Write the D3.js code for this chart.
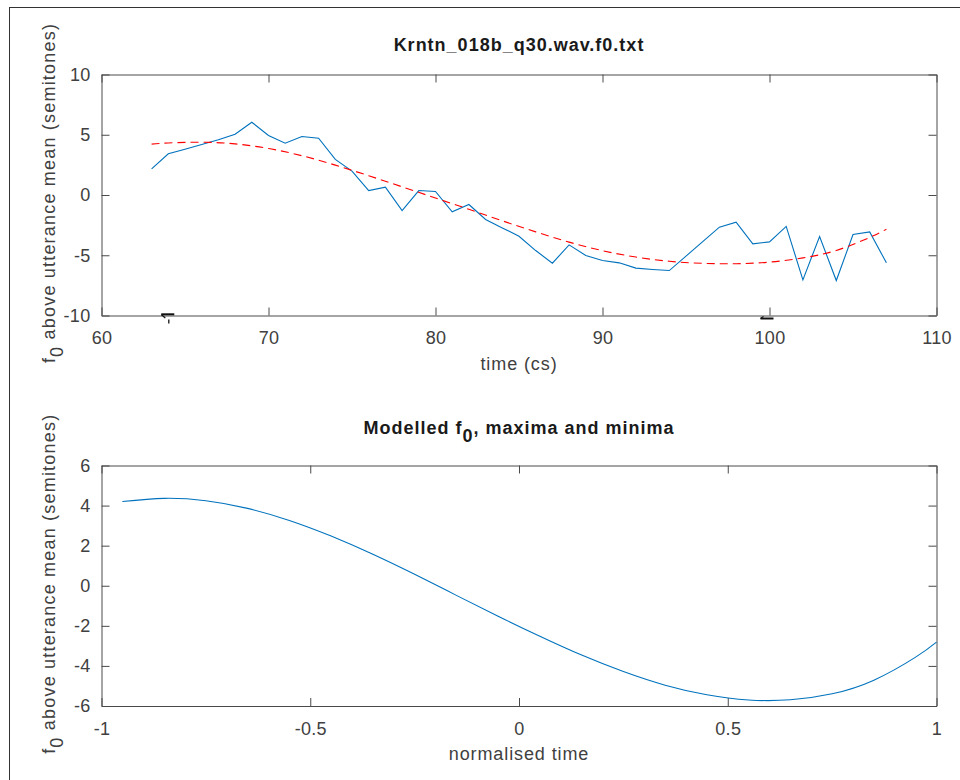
<!DOCTYPE html>
<html>
<head>
<meta charset="utf-8">
<script src="https://cdn.jsdelivr.net/npm/d3@7/dist/d3.min.js"></script>
<style>
  html, body { margin: 0; padding: 0; background: #fff; }
  svg { display: block; }
  text { font-family: "Liberation Sans", Arial, Helvetica, sans-serif; fill: #404040; }
</style>
</head>
<body>
<svg id="chart" width="960" height="780"></svg>
<script>
// ---------- data ----------
const timeCs = [63,64,65,66,67,68,69,70,71,72,73,74,75,76,77,78,79,80,81,82,83,84,85,
                86,87,88,89,90,91,92,93,94,95,96,97,98,99,100,101,102,103,104,105,106,107];
const f0Values = [2.17,3.42,3.80,4.19,4.58,5.05,6.04,4.94,4.30,4.85,4.71,2.95,1.98,0.37,0.65,-1.29,
                  0.37,0.29,-1.40,-0.79,-2.03,-2.73,-3.42,-4.61,-5.66,-4.14,-5.02,-5.44,-5.63,-6.07,
                  -6.18,-6.27,-5.07,-3.87,-2.67,-2.26,-4.05,-3.89,-2.61,-7.04,-3.44,-7.10,-3.28,-3.06,-5.63];
const fitTimes  = [63,64,66,68,70,72,74,76,78,80,82,84,86,88,90,92,94,96,98,100,102,104,106,107];
const fitValues = [4.22,4.32,4.38,4.24,3.86,3.26,2.48,1.60,0.68,-0.25,-1.19,-2.14,-3.06,-3.91,-4.62,
                   -5.15,-5.50,-5.67,-5.70,-5.57,-5.22,-4.60,-3.52,-2.84];
const modelTime = [-0.95,-0.85,-0.75,-0.65,-0.55,-0.45,-0.35,-0.25,-0.15,-0.05,0.05,0.15,0.25,0.35,
                   0.45,0.55,0.65,0.75,0.85,0.95,1.0];
const modelF0   = [4.20,4.36,4.24,3.86,3.26,2.48,1.57,0.57,-0.48,-1.52,-2.52,-3.46,-4.28,-4.96,
                   -5.44,-5.70,-5.69,-5.39,-4.71,-3.56,-2.81];
const markerTimes = [64, 100];

const topXTicks = [60,70,80,90,100,110];
const topYTicks = [-10,-5,0,5,10];
const botXTicks = [-1,-0.5,0,0.5,1];
const botYTicks = [-6,-4,-2,0,2,4,6];

const topTitle = "Krntn_018b_q30.wav.f0.txt";
const topXLabel = "time (cs)";
const botXLabel = "normalised time";

// ---------- drawing ----------
const svg = d3.select("#chart");
const AX = "#4a4a4a";
const TXT = "#404040";

svg.append("rect").attr("x", 9.5).attr("y", 7.5).attr("width", 1000).attr("height", 1000)
  .attr("fill", "none").attr("stroke", "#333").attr("stroke-width", 1);

function panel(cfg) {
  const g = svg.append("g");
  const x = d3.scaleLinear().domain(cfg.xDomain).range([cfg.left, cfg.right]);
  const y = d3.scaleLinear().domain(cfg.yDomain).range([cfg.bottom, cfg.top]);
  const fmt = d => String(d);

  const styleAxis = sel => {
    sel.select(".domain").attr("stroke", AX).attr("stroke-width", 1);
    sel.selectAll(".tick line").attr("stroke", AX).attr("stroke-width", 1);
    sel.selectAll(".tick text").attr("fill", TXT).style("font-size", "18px")
       .style("letter-spacing", "0.3px")
       .style("font-family", '"Liberation Sans", Arial, sans-serif');
  };

  g.append("g").attr("transform", `translate(0,${cfg.bottom})`)
    .call(d3.axisBottom(x).tickValues(cfg.xTicks).tickFormat(fmt).tickSize(-8).tickSizeOuter(0).tickPadding(16))
    .call(styleAxis);
  g.append("g").attr("transform", `translate(0,${cfg.top})`)
    .call(d3.axisTop(x).tickValues(cfg.xTicks).tickFormat("").tickSize(-8).tickSizeOuter(0))
    .call(styleAxis);
  g.append("g").attr("transform", `translate(${cfg.left},0)`)
    .call(d3.axisLeft(y).tickValues(cfg.yTicks).tickFormat(fmt).tickSize(-8).tickSizeOuter(0).tickPadding(11))
    .call(styleAxis);
  g.append("g").attr("transform", `translate(${cfg.right},0)`)
    .call(d3.axisRight(y).tickValues(cfg.yTicks).tickFormat("").tickSize(-8).tickSizeOuter(0))
    .call(styleAxis);
  g.selectAll(".tick text").filter(function(){ return this.textContent === ""; }).remove();

  // x label
  g.append("text").attr("x", (cfg.left + cfg.right) / 2).attr("y", cfg.bottom + 54)
    .attr("text-anchor", "middle").style("font-size", "18px").style("letter-spacing", "0.9px")
    .text(cfg.xLabel);

  // y label (rotated, with subscript 0)
  const yl = g.append("text")
    .attr("transform", `translate(55,${(cfg.top + cfg.bottom) / 2 - 2}) rotate(-90)`)
    .attr("text-anchor", "middle").style("font-size", "18px").style("letter-spacing", "1.2px");
  yl.append("tspan").text("f");
  yl.append("tspan").attr("dy", 8).text("0");
  yl.append("tspan").attr("dy", -8).text(" above utterance mean (semitones)");

  return {g, x, y};
}

// top panel
const P1 = panel({xDomain:[60,110], yDomain:[-10,10], left:101.5, right:936.5, top:74.5, bottom:315.5,
                  xTicks: topXTicks, yTicks: topYTicks, xLabel: topXLabel});
P1.g.append("path")
  .datum(timeCs.map((t,i) => [t, f0Values[i]]))
  .attr("fill", "none").attr("stroke", "#0072BD").attr("stroke-width", 1.1)
  .attr("d", d3.line().x(d => P1.x(d[0])).y(d => P1.y(d[1])));
P1.g.append("path")
  .datum(fitTimes.map((t,i) => [t, fitValues[i]]))
  .attr("fill", "none").attr("stroke", "#FF0000").attr("stroke-width", 1.1)
  .attr("stroke-dasharray", "8,5")
  .attr("d", d3.line().curve(d3.curveNatural).x(d => P1.x(d[0])).y(d => P1.y(d[1])));

// small extremum markers under the axis
markerTimes.forEach((t, i) => {
  const mx = P1.x(t), my = P1.y(-10);
  if (i === 0) {
    P1.g.append("path").attr("d", `M${mx-7},${my-1.2}H${mx+6}`).attr("stroke", "#111").attr("stroke-width", 2).attr("fill","none");
    P1.g.append("path").attr("d", `M${mx-7},${my-1}L${mx-3},${my+2.5}`).attr("stroke", "#111").attr("stroke-width", 1.2).attr("fill","none");
    P1.g.append("path").attr("d", `M${mx+0.5},${my+4}V${my+8}`).attr("stroke", "#111").attr("stroke-width", 1.3).attr("fill","none");
  } else {
    P1.g.append("path").attr("d", `M${mx-9},${my+3}H${mx+4}`).attr("stroke", "#111").attr("stroke-width", 2).attr("fill","none");
    P1.g.append("path").attr("d", `M${mx-9},${my+3}L${mx-6},${my+1}`).attr("stroke", "#111").attr("stroke-width", 1.2).attr("fill","none");
  }
});

svg.append("text").attr("x", 519).attr("y", 51).attr("text-anchor", "middle")
  .style("font-size", "18px").style("font-weight", "bold").style("letter-spacing", "1px")
  .style("fill", "#1a1a1a").text(topTitle);

// bottom panel
const P2 = panel({xDomain:[-1,1], yDomain:[-6,6], left:101.5, right:936.5, top:465.5, bottom:706,
                  xTicks: botXTicks, yTicks: botYTicks, xLabel: botXLabel});
P2.g.append("path")
  .datum(modelTime.map((t,i) => [t, modelF0[i]]))
  .attr("fill", "none").attr("stroke", "#0072BD").attr("stroke-width", 1.1)
  .attr("d", d3.line().curve(d3.curveNatural).x(d => P2.x(d[0])).y(d => P2.y(d[1])));

const t2 = svg.append("text").attr("x", 519).attr("y", 434).attr("text-anchor", "middle")
  .style("font-size", "18px").style("font-weight", "bold").style("letter-spacing", "1px")
  .style("fill", "#1a1a1a");
t2.append("tspan").text("Modelled f");
t2.append("tspan").attr("dy", 8).text("0");
t2.append("tspan").attr("dy", -8).text(", maxima and minima");
</script>
</body>
</html>
